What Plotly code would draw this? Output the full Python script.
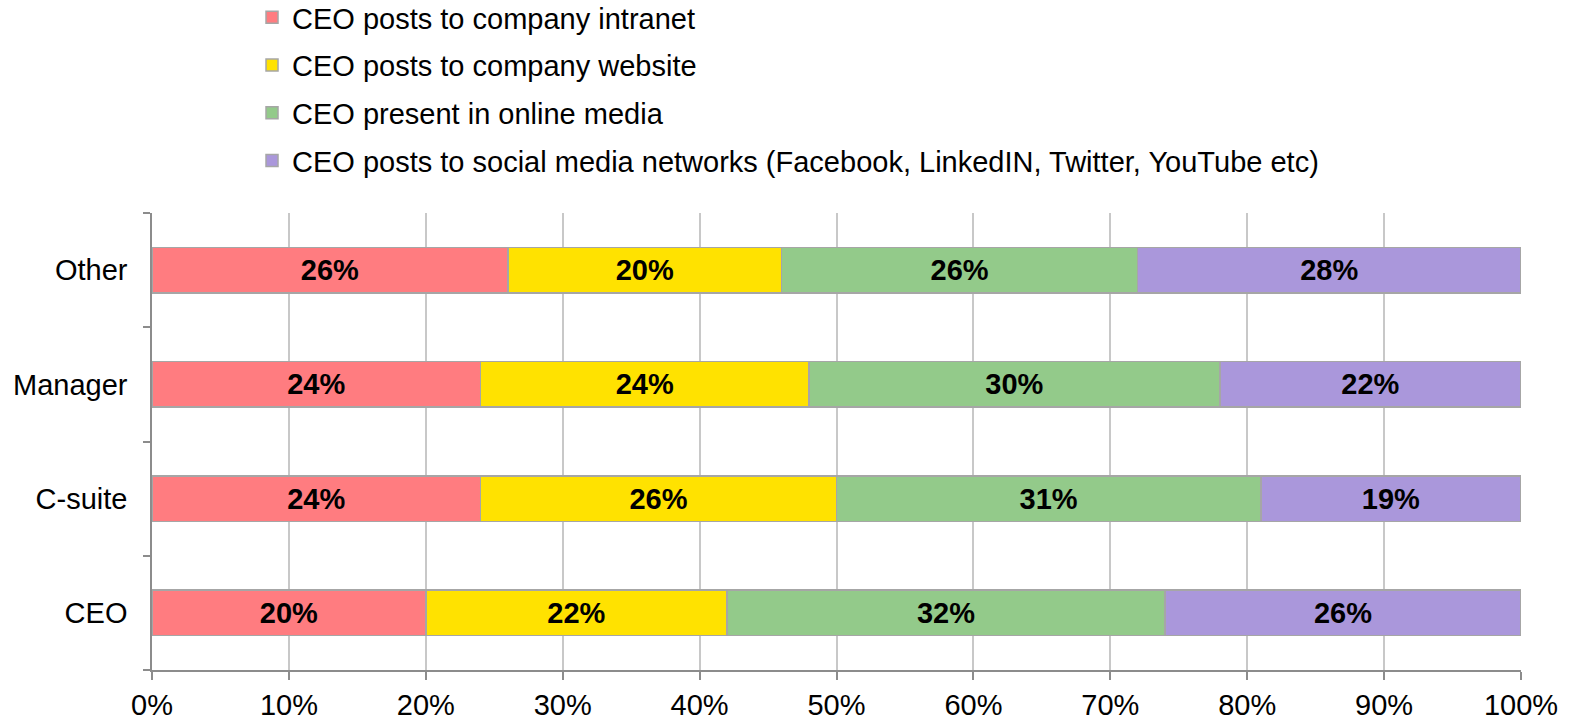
import plotly.graph_objects as go

categories = ["CEO", "C-suite", "Manager", "Other"]
series_names = [
    "CEO posts to company intranet",
    "CEO posts to company website",
    "CEO present in online media",
    "CEO posts to social media networks (Facebook, LinkedIN, Twitter, YouTube etc)",
]
intranet = [20, 24, 24, 26]
website = [22, 26, 24, 20]
online_media = [32, 31, 30, 26]
social_media = [26, 19, 22, 28]
colors = ["#FF7C80", "#FFE200", "#93CA8A", "#AA97DB"]
x_ticks = list(range(0, 101, 10))
x_tick_labels = [f"{v}%" for v in x_ticks]

FONT = "Liberation Sans, Arial, sans-serif"
FS = 29

fig = go.Figure()
for i, (name, vals, col) in enumerate(zip(series_names,
                                          [intranet, website, online_media, social_media],
                                          colors)):
    fig.add_trace(go.Bar(
        y=categories, x=vals, name=name, orientation="h",
        marker=dict(color=col, line=dict(color="#A6A6A6", width=1.5)),
        text=[f"{v}%" for v in vals], textposition="inside",
        insidetextanchor="middle",
        textfont=dict(family=FONT, size=FS, color="black", weight="bold"),
        legendgroup=f"g{i}",
    ))

fig.update_layout(
    barmode="stack",
    bargap=0.6,
    width=1585, height=727,
    margin=dict(l=152, r=64, t=213, b=57, autoexpand=False),
    plot_bgcolor="white", paper_bgcolor="white",
    font=dict(family=FONT, size=FS, color="black"),
    uniformtext=dict(minsize=FS, mode="show"),
    showlegend=True,
    legend=dict(
        xref="container", yref="container",
        x=0.159, y=0.8776, xanchor="left", yanchor="middle",
        font=dict(family=FONT, size=FS, color="black"),
        tracegroupgap=7, traceorder="grouped",
        itemwidth=30,
    ),
    xaxis=dict(
        range=[0, 100], tickvals=x_ticks, ticktext=x_tick_labels,
        tickangle=0,
        showgrid=True, gridcolor="#C8C8C8", gridwidth=1.5,
        showline=True, linecolor="#8C8C8C", linewidth=1.5,
        ticks="outside", ticklen=8, tickcolor="#8C8C8C", tickwidth=1.5,
        zeroline=False, fixedrange=True,
    ),
    yaxis=dict(
        type="category", categoryorder="array", categoryarray=categories,
        range=[-0.5, 3.5],
        showline=True, linecolor="#8C8C8C", linewidth=1.5,
        ticks="outside", ticklen=7, tickcolor="#8C8C8C", tickwidth=1.5,
        tickson="boundaries", showgrid=False, zeroline=False,
        ticklabelstandoff=17,
    ),
)

fig.write_html("out.html")
